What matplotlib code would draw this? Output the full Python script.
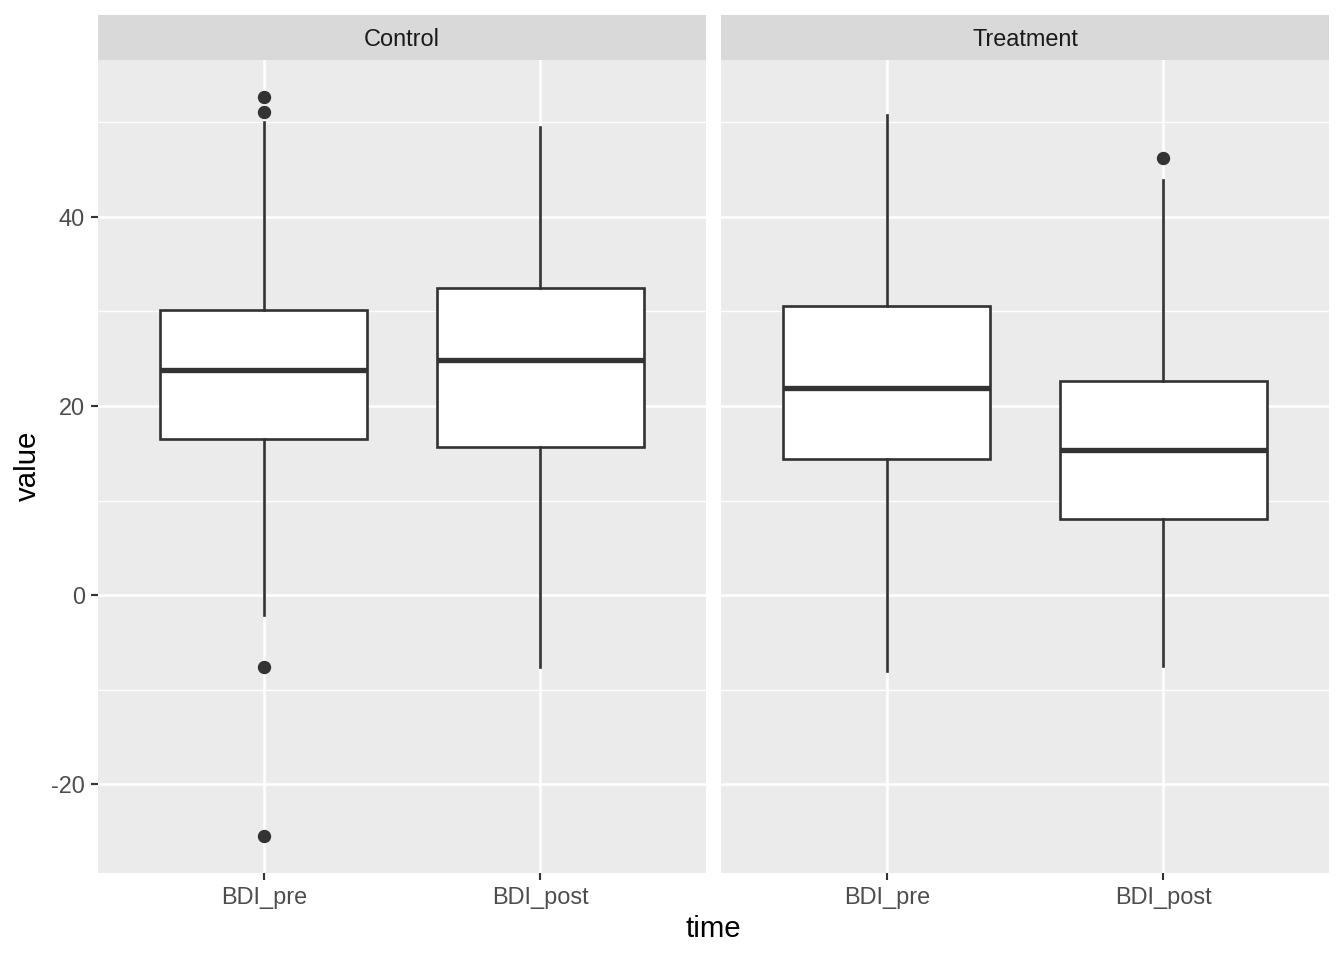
import matplotlib.pyplot as plt
import numpy as np

# values (five-number summaries + outliers)
groups = ["Control", "Treatment"]
times = ["BDI_pre", "BDI_post"]

control_q1 = [16.5, 15.7]
control_med = [23.8, 24.9]
control_q3 = [30.2, 32.5]
control_lo = [-2.1, -7.6]
control_hi = [50.0, 49.5]
control_out = [[52.7, 51.1, -7.6, -25.5], []]

treat_q1 = [14.4, 8.0]
treat_med = [21.9, 15.3]
treat_q3 = [30.6, 22.6]
treat_lo = [-8.0, -7.5]
treat_hi = [50.8, 43.9]
treat_out = [[], [46.2]]

y_major = [-20, 0, 20, 40]
y_minor = [-10, 10, 30, 50]

plt.rcParams['font.family'] = ['Liberation Sans', 'DejaVu Sans']

BOX = '#333333'
PANEL = '#EBEBEB'
STRIP = '#D9D9D9'


def stats(q1, med, q3, lo, hi, out):
    res = []
    for i in range(len(q1)):
        res.append(dict(q1=q1[i], med=med[i], q3=q3[i], whislo=lo[i],
                        whishi=hi[i], fliers=out[i]))
    return res


panel_data = [
    stats(control_q1, control_med, control_q3, control_lo, control_hi, control_out),
    stats(treat_q1, treat_med, treat_q3, treat_lo, treat_hi, treat_out),
]

fig = plt.figure(figsize=(7, 5), dpi=192)

lefts = [98 / 1344, 721 / 1344]
pw = 608 / 1344
bottom = 1 - 873 / 960
ph = (873 - 60) / 960
strip_h = 45 / 960

for k, (name, st) in enumerate(zip(groups, panel_data)):
    ax = fig.add_axes([lefts[k], bottom, pw, ph])
    ax.set_facecolor(PANEL)
    for s in ax.spines.values():
        s.set_visible(False)
    ax.set_xlim(0.4, 2.6)
    ax.set_ylim(-29.4, 56.6)
    for y in y_minor:
        ax.axhline(y, color='white', lw=0.5, zorder=0)
    for y in y_major:
        ax.axhline(y, color='white', lw=0.95, zorder=0)
    for x in [1, 2]:
        ax.axvline(x, color='white', lw=0.95, zorder=0)

    ax.bxp(st, positions=[1, 2], widths=0.75, patch_artist=True,
           showcaps=False, zorder=2,
           boxprops=dict(facecolor='white', edgecolor=BOX, linewidth=1.0),
           whiskerprops=dict(color=BOX, linewidth=1.0),
           medianprops=dict(color=BOX, linewidth=2.0, solid_capstyle='butt'),
           flierprops=dict(marker='o', markerfacecolor=BOX, markeredgecolor=BOX,
                           markersize=4.0, linestyle='none'))

    ax.set_xticks([1, 2])
    ax.set_xticklabels(times)
    ax.set_yticks(y_major)
    ax.tick_params(axis='both', length=2.75, width=0.8, color='#333333',
                   labelsize=8.8, labelcolor='#4D4D4D', pad=2.2)
    if k == 0:
        ax.set_yticklabels([str(v) for v in y_major])
    else:
        ax.tick_params(axis='y', left=False, labelleft=False)

    sax = fig.add_axes([lefts[k], 1 - 60 / 960, pw, strip_h])
    sax.set_facecolor(STRIP)
    sax.set_xticks([])
    sax.set_yticks([])
    for s in sax.spines.values():
        s.set_visible(False)
    sax.text(0.5, 0.45, name, ha='center', va='center', fontsize=8.8,
             color='#1A1A1A', transform=sax.transAxes)

fig.text(713 / 1344, 1 - 929 / 960, 'time', ha='center', va='center', fontsize=11)
fig.text(28 / 1344, 1 - 466 / 960, 'value', ha='center', va='center',
         fontsize=11, rotation=90)

fig.savefig('out.png', dpi=192, facecolor='white')
